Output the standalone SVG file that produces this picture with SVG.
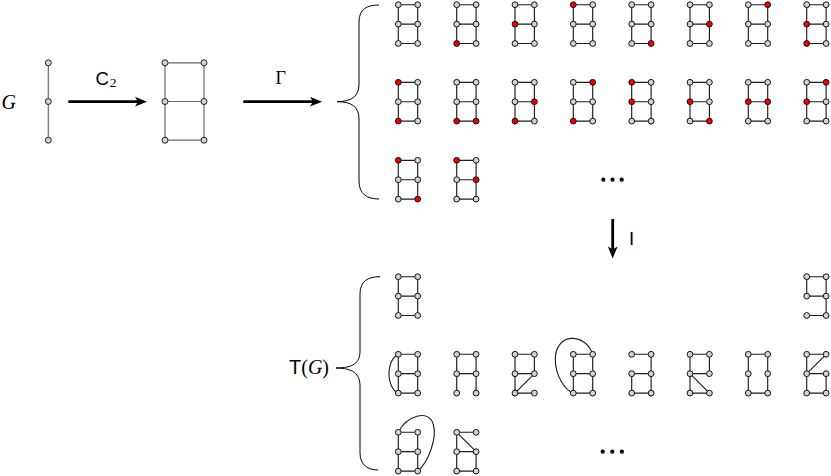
<svg xmlns="http://www.w3.org/2000/svg" width="831" height="476" viewBox="0 0 831 476">
<style>
.sg path{fill:none;stroke:#1c1c1c;stroke-width:1.15}
.sg circle{fill:#d3d3d3;stroke:#111;stroke-width:1}
.sg circle.r{fill:#f00000}
.big path{fill:none;stroke:#6a6a6a;stroke-width:1.2}
.big circle{fill:#d3d3d3;stroke:#222;stroke-width:1}
.conn line{stroke:#000;stroke-width:2.8}
.conn polygon{fill:#000}
.brace{fill:none;stroke:#000;stroke-width:1}
.lab{font-family:"Liberation Serif",serif;fill:#000}
.sans{font-family:"Liberation Sans",sans-serif}
.dot{fill:#000}
</style>
<rect width="831" height="476" fill="#fff"/>

<!-- left side -->
<text class="lab" x="1.5" y="109" style="font-size:20px;font-style:italic">G</text>
<g id="pathG" class="big">
<path d="M48.3,62.8V140.2"/>
<circle cx="48.3" cy="62.8" r="3"/><circle cx="48.3" cy="101.5" r="3"/><circle cx="48.3" cy="140.2" r="3"/>
</g>
<g id="c2G" class="big">
<path d="M165,62.8H204V140.2H165Z M165,101.5H204"/>
<circle cx="165" cy="62.8" r="3"/><circle cx="204" cy="62.8" r="3"/><circle cx="165" cy="101.5" r="3"/><circle cx="204" cy="101.5" r="3"/><circle cx="165" cy="140.2" r="3"/><circle cx="204" cy="140.2" r="3"/>
</g>

<g id="connectors" class="conn">
<line x1="68.3" y1="101.7" x2="138" y2="101.7"/>
<polygon points="147,101.7 135,96.8 138,101.7 135,106.6"/>
<line x1="243.3" y1="101.7" x2="313" y2="101.7"/>
<polygon points="322,101.7 310,96.8 313,101.7 310,106.6"/>
<line x1="612.7" y1="219" x2="612.7" y2="249.5"/>
<polygon points="612.7,258.5 607.8,246.5 612.7,249.5 617.6,246.5"/>
</g>
<text class="lab sans" x="95.5" y="85" style="font-size:18.5px">C</text><text class="lab" x="109.8" y="86.8" style="font-size:13.5px">2</text>
<text class="lab" x="275.5" y="83.5" style="font-size:18px">Γ</text>
<text class="lab sans" x="629" y="245" style="font-size:18.5px">I</text>
<text class="lab" x="289" y="374" style="font-size:20px"><tspan class="sans">T</tspan>(<tspan style="font-style:italic">G</tspan>)</text>

<path class="brace" d="M379,5 C367,5 359,9 359,22 L359,84 C359,96 352,101.7 337,101.7 C352,101.7 359,107 359,119 L359,181 C359,194 367,199 379,199"/>
<path class="brace" d="M380,276.7 C368,276.7 360,281 360,294 L360,351 C360,363 353,368 336,368 C353,368 360,374 360,386 L360,453 C360,465 368,470 378,470"/>

<!-- Gamma row 1 -->
<g id="r1g1" class="sg" transform="translate(398.3,4.7)"><path d="M0,0H19.4V38.8H0Z M0,19.4H19.4"/><circle cx="0" cy="0" r="2.9"/><circle cx="19.4" cy="0" r="2.9"/><circle cx="0" cy="19.4" r="2.9"/><circle cx="19.4" cy="19.4" r="2.9"/><circle cx="0" cy="38.8" r="2.9"/><circle cx="19.4" cy="38.8" r="2.9"/></g>
<g id="r1g2" class="sg" transform="translate(456.7,4.7)"><path d="M0,0H19.4V38.8H0Z M0,19.4H19.4"/><circle cx="0" cy="0" r="2.9"/><circle cx="19.4" cy="0" r="2.9"/><circle cx="0" cy="19.4" r="2.9"/><circle cx="19.4" cy="19.4" r="2.9"/><circle class="r" cx="0" cy="38.8" r="2.9"/><circle cx="19.4" cy="38.8" r="2.9"/></g>
<g id="r1g3" class="sg" transform="translate(515,4.7)"><path d="M0,0H19.4V38.8H0Z M0,19.4H19.4"/><circle cx="0" cy="0" r="2.9"/><circle cx="19.4" cy="0" r="2.9"/><circle class="r" cx="0" cy="19.4" r="2.9"/><circle cx="19.4" cy="19.4" r="2.9"/><circle cx="0" cy="38.8" r="2.9"/><circle cx="19.4" cy="38.8" r="2.9"/></g>
<g id="r1g4" class="sg" transform="translate(573.3,4.7)"><path d="M0,0H19.4V38.8H0Z M0,19.4H19.4"/><circle class="r" cx="0" cy="0" r="2.9"/><circle cx="19.4" cy="0" r="2.9"/><circle cx="0" cy="19.4" r="2.9"/><circle cx="19.4" cy="19.4" r="2.9"/><circle cx="0" cy="38.8" r="2.9"/><circle cx="19.4" cy="38.8" r="2.9"/></g>
<g id="r1g5" class="sg" transform="translate(631.7,4.7)"><path d="M0,0H19.4V38.8H0Z M0,19.4H19.4"/><circle cx="0" cy="0" r="2.9"/><circle cx="19.4" cy="0" r="2.9"/><circle cx="0" cy="19.4" r="2.9"/><circle cx="19.4" cy="19.4" r="2.9"/><circle cx="0" cy="38.8" r="2.9"/><circle class="r" cx="19.4" cy="38.8" r="2.9"/></g>
<g id="r1g6" class="sg" transform="translate(690,4.7)"><path d="M0,0H19.4V38.8H0Z M0,19.4H19.4"/><circle cx="0" cy="0" r="2.9"/><circle cx="19.4" cy="0" r="2.9"/><circle cx="0" cy="19.4" r="2.9"/><circle class="r" cx="19.4" cy="19.4" r="2.9"/><circle cx="0" cy="38.8" r="2.9"/><circle cx="19.4" cy="38.8" r="2.9"/></g>
<g id="r1g7" class="sg" transform="translate(748.3,4.7)"><path d="M0,0H19.4V38.8H0Z M0,19.4H19.4"/><circle cx="0" cy="0" r="2.9"/><circle class="r" cx="19.4" cy="0" r="2.9"/><circle cx="0" cy="19.4" r="2.9"/><circle cx="19.4" cy="19.4" r="2.9"/><circle cx="0" cy="38.8" r="2.9"/><circle cx="19.4" cy="38.8" r="2.9"/></g>
<g id="r1g8" class="sg" transform="translate(806.7,4.7)"><path d="M0,0H19.4V38.8H0Z M0,19.4H19.4"/><circle cx="0" cy="0" r="2.9"/><circle cx="19.4" cy="0" r="2.9"/><circle class="r" cx="0" cy="19.4" r="2.9"/><circle cx="19.4" cy="19.4" r="2.9"/><circle class="r" cx="0" cy="38.8" r="2.9"/><circle cx="19.4" cy="38.8" r="2.9"/></g>

<!-- Gamma row 2 -->
<g id="r2g1" class="sg" transform="translate(398.3,82.3)"><path d="M0,0H19.4V38.8H0Z M0,19.4H19.4"/><circle class="r" cx="0" cy="0" r="2.9"/><circle cx="19.4" cy="0" r="2.9"/><circle cx="0" cy="19.4" r="2.9"/><circle cx="19.4" cy="19.4" r="2.9"/><circle class="r" cx="0" cy="38.8" r="2.9"/><circle cx="19.4" cy="38.8" r="2.9"/></g>
<g id="r2g2" class="sg" transform="translate(456.7,82.3)"><path d="M0,0H19.4V38.8H0Z M0,19.4H19.4"/><circle cx="0" cy="0" r="2.9"/><circle cx="19.4" cy="0" r="2.9"/><circle cx="0" cy="19.4" r="2.9"/><circle cx="19.4" cy="19.4" r="2.9"/><circle class="r" cx="0" cy="38.8" r="2.9"/><circle class="r" cx="19.4" cy="38.8" r="2.9"/></g>
<g id="r2g3" class="sg" transform="translate(515,82.3)"><path d="M0,0H19.4V38.8H0Z M0,19.4H19.4"/><circle cx="0" cy="0" r="2.9"/><circle cx="19.4" cy="0" r="2.9"/><circle cx="0" cy="19.4" r="2.9"/><circle class="r" cx="19.4" cy="19.4" r="2.9"/><circle class="r" cx="0" cy="38.8" r="2.9"/><circle cx="19.4" cy="38.8" r="2.9"/></g>
<g id="r2g4" class="sg" transform="translate(573.3,82.3)"><path d="M0,0H19.4V38.8H0Z M0,19.4H19.4"/><circle cx="0" cy="0" r="2.9"/><circle class="r" cx="19.4" cy="0" r="2.9"/><circle cx="0" cy="19.4" r="2.9"/><circle cx="19.4" cy="19.4" r="2.9"/><circle class="r" cx="0" cy="38.8" r="2.9"/><circle cx="19.4" cy="38.8" r="2.9"/></g>
<g id="r2g5" class="sg" transform="translate(631.7,82.3)"><path d="M0,0H19.4V38.8H0Z M0,19.4H19.4"/><circle class="r" cx="0" cy="0" r="2.9"/><circle cx="19.4" cy="0" r="2.9"/><circle class="r" cx="0" cy="19.4" r="2.9"/><circle cx="19.4" cy="19.4" r="2.9"/><circle cx="0" cy="38.8" r="2.9"/><circle cx="19.4" cy="38.8" r="2.9"/></g>
<g id="r2g6" class="sg" transform="translate(690,82.3)"><path d="M0,0H19.4V38.8H0Z M0,19.4H19.4"/><circle cx="0" cy="0" r="2.9"/><circle cx="19.4" cy="0" r="2.9"/><circle class="r" cx="0" cy="19.4" r="2.9"/><circle cx="19.4" cy="19.4" r="2.9"/><circle cx="0" cy="38.8" r="2.9"/><circle class="r" cx="19.4" cy="38.8" r="2.9"/></g>
<g id="r2g7" class="sg" transform="translate(748.3,82.3)"><path d="M0,0H19.4V38.8H0Z M0,19.4H19.4"/><circle cx="0" cy="0" r="2.9"/><circle cx="19.4" cy="0" r="2.9"/><circle class="r" cx="0" cy="19.4" r="2.9"/><circle class="r" cx="19.4" cy="19.4" r="2.9"/><circle cx="0" cy="38.8" r="2.9"/><circle cx="19.4" cy="38.8" r="2.9"/></g>
<g id="r2g8" class="sg" transform="translate(806.7,82.3)"><path d="M0,0H19.4V38.8H0Z M0,19.4H19.4"/><circle cx="0" cy="0" r="2.9"/><circle class="r" cx="19.4" cy="0" r="2.9"/><circle class="r" cx="0" cy="19.4" r="2.9"/><circle cx="19.4" cy="19.4" r="2.9"/><circle cx="0" cy="38.8" r="2.9"/><circle cx="19.4" cy="38.8" r="2.9"/></g>

<!-- Gamma row 3 -->
<g id="r3g1" class="sg" transform="translate(398.3,160.3)"><path d="M0,0H19.4V38.8H0Z M0,19.4H19.4"/><circle class="r" cx="0" cy="0" r="2.9"/><circle cx="19.4" cy="0" r="2.9"/><circle cx="0" cy="19.4" r="2.9"/><circle cx="19.4" cy="19.4" r="2.9"/><circle cx="0" cy="38.8" r="2.9"/><circle class="r" cx="19.4" cy="38.8" r="2.9"/></g>
<g id="r3g2" class="sg" transform="translate(456.7,160.3)"><path d="M0,0H19.4V38.8H0Z M0,19.4H19.4"/><circle class="r" cx="0" cy="0" r="2.9"/><circle cx="19.4" cy="0" r="2.9"/><circle cx="0" cy="19.4" r="2.9"/><circle class="r" cx="19.4" cy="19.4" r="2.9"/><circle cx="0" cy="38.8" r="2.9"/><circle cx="19.4" cy="38.8" r="2.9"/></g>
<circle class="dot" cx="603.3" cy="179.7" r="2.1"/><circle class="dot" cx="612.5" cy="179.7" r="2.1"/><circle class="dot" cx="621.7" cy="179.7" r="2.1"/>

<!-- T(G) row A -->
<g id="tA1" class="sg" transform="translate(398.3,276.7)"><path d="M0,0H19.4V38.8H0Z M0,19.4H19.4"/><circle cx="0" cy="0" r="2.9"/><circle cx="19.4" cy="0" r="2.9"/><circle cx="0" cy="19.4" r="2.9"/><circle cx="19.4" cy="19.4" r="2.9"/><circle cx="0" cy="38.8" r="2.9"/><circle cx="19.4" cy="38.8" r="2.9"/></g>
<g id="tA8" class="sg" transform="translate(806.7,276.7)"><path d="M0,19.4V0H19.4V38.8H0 M0,19.4H19.4"/><circle cx="0" cy="0" r="2.9"/><circle cx="19.4" cy="0" r="2.9"/><circle cx="0" cy="19.4" r="2.9"/><circle cx="19.4" cy="19.4" r="2.9"/><circle cx="0" cy="38.8" r="2.9"/><circle cx="19.4" cy="38.8" r="2.9"/></g>

<!-- T(G) row B -->
<g id="tB1" class="sg" transform="translate(398.3,354.3)"><path d="M0,0H19.4V38.8H0Z M0,19.4H19.4 M0,0C-12.5,6 -12.5,33 0,38.8"/><circle cx="0" cy="0" r="2.9"/><circle cx="19.4" cy="0" r="2.9"/><circle cx="0" cy="19.4" r="2.9"/><circle cx="19.4" cy="19.4" r="2.9"/><circle cx="0" cy="38.8" r="2.9"/><circle cx="19.4" cy="38.8" r="2.9"/></g>
<g id="tB2" class="sg" transform="translate(456.7,354.3)"><path d="M0,38.8V0H19.4V38.8 M0,19.4H19.4"/><circle cx="0" cy="0" r="2.9"/><circle cx="19.4" cy="0" r="2.9"/><circle cx="0" cy="19.4" r="2.9"/><circle cx="19.4" cy="19.4" r="2.9"/><circle cx="0" cy="38.8" r="2.9"/><circle cx="19.4" cy="38.8" r="2.9"/></g>
<g id="tB3" class="sg" transform="translate(515,354.3)"><path d="M19.4,19.4V0H0V38.8H19.4 M0,19.4H19.4 M19.4,19.4L0,38.8"/><circle cx="0" cy="0" r="2.9"/><circle cx="19.4" cy="0" r="2.9"/><circle cx="0" cy="19.4" r="2.9"/><circle cx="19.4" cy="19.4" r="2.9"/><circle cx="0" cy="38.8" r="2.9"/><circle cx="19.4" cy="38.8" r="2.9"/></g>
<g id="tB4" class="sg" transform="translate(573.3,354.3)"><path d="M0,0H19.4V38.8H0Z M0,19.4H19.4 M19.4,0C12,-22 -18,-22 -18,5 C-18,22 -8,36 0,38.8"/><circle cx="0" cy="0" r="2.9"/><circle cx="19.4" cy="0" r="2.9"/><circle cx="0" cy="19.4" r="2.9"/><circle cx="19.4" cy="19.4" r="2.9"/><circle cx="0" cy="38.8" r="2.9"/><circle cx="19.4" cy="38.8" r="2.9"/></g>
<g id="tB5" class="sg" transform="translate(631.7,354.3)"><path d="M0,0H19.4V38.8H0V19.4H19.4"/><circle cx="0" cy="0" r="2.9"/><circle cx="19.4" cy="0" r="2.9"/><circle cx="0" cy="19.4" r="2.9"/><circle cx="19.4" cy="19.4" r="2.9"/><circle cx="0" cy="38.8" r="2.9"/><circle cx="19.4" cy="38.8" r="2.9"/></g>
<g id="tB6" class="sg" transform="translate(690,354.3)"><path d="M19.4,19.4V0H0V38.8H19.4 M0,19.4H19.4 M0,19.4L19.4,38.8"/><circle cx="0" cy="0" r="2.9"/><circle cx="19.4" cy="0" r="2.9"/><circle cx="0" cy="19.4" r="2.9"/><circle cx="19.4" cy="19.4" r="2.9"/><circle cx="0" cy="38.8" r="2.9"/><circle cx="19.4" cy="38.8" r="2.9"/></g>
<g id="tB7" class="sg" transform="translate(748.3,354.3)"><path d="M0,0H19.4V38.8H0Z"/><circle cx="0" cy="0" r="2.9"/><circle cx="19.4" cy="0" r="2.9"/><circle cx="0" cy="19.4" r="2.9"/><circle cx="19.4" cy="19.4" r="2.9"/><circle cx="0" cy="38.8" r="2.9"/><circle cx="19.4" cy="38.8" r="2.9"/></g>
<g id="tB8" class="sg" transform="translate(806.7,354.3)"><path d="M19.4,19.4V38.8H0V0H19.4 M0,19.4H19.4 M0,19.4L19.4,0"/><circle cx="0" cy="0" r="2.9"/><circle cx="19.4" cy="0" r="2.9"/><circle cx="0" cy="19.4" r="2.9"/><circle cx="19.4" cy="19.4" r="2.9"/><circle cx="0" cy="38.8" r="2.9"/><circle cx="19.4" cy="38.8" r="2.9"/></g>

<!-- T(G) row C -->
<g id="tC1" class="sg" transform="translate(398.3,432.3)"><path d="M0,0H19.4V38.8H0Z M0,19.4H19.4 M0,0C8,-16 30,-24 35,-8 C39,6 30,30 19.4,38.8"/><circle cx="0" cy="0" r="2.9"/><circle cx="19.4" cy="0" r="2.9"/><circle cx="0" cy="19.4" r="2.9"/><circle cx="19.4" cy="19.4" r="2.9"/><circle cx="0" cy="38.8" r="2.9"/><circle cx="19.4" cy="38.8" r="2.9"/></g>
<g id="tC2" class="sg" transform="translate(456.7,432.3)"><path d="M19.4,19.4V38.8H0V0H19.4 M0,19.4H19.4 M0,0L19.4,19.4"/><circle cx="0" cy="0" r="2.9"/><circle cx="19.4" cy="0" r="2.9"/><circle cx="0" cy="19.4" r="2.9"/><circle cx="19.4" cy="19.4" r="2.9"/><circle cx="0" cy="38.8" r="2.9"/><circle cx="19.4" cy="38.8" r="2.9"/></g>
<circle class="dot" cx="602.7" cy="451.7" r="2.1"/><circle class="dot" cx="612.3" cy="451.7" r="2.1"/><circle class="dot" cx="621.9" cy="451.7" r="2.1"/>
</svg>
